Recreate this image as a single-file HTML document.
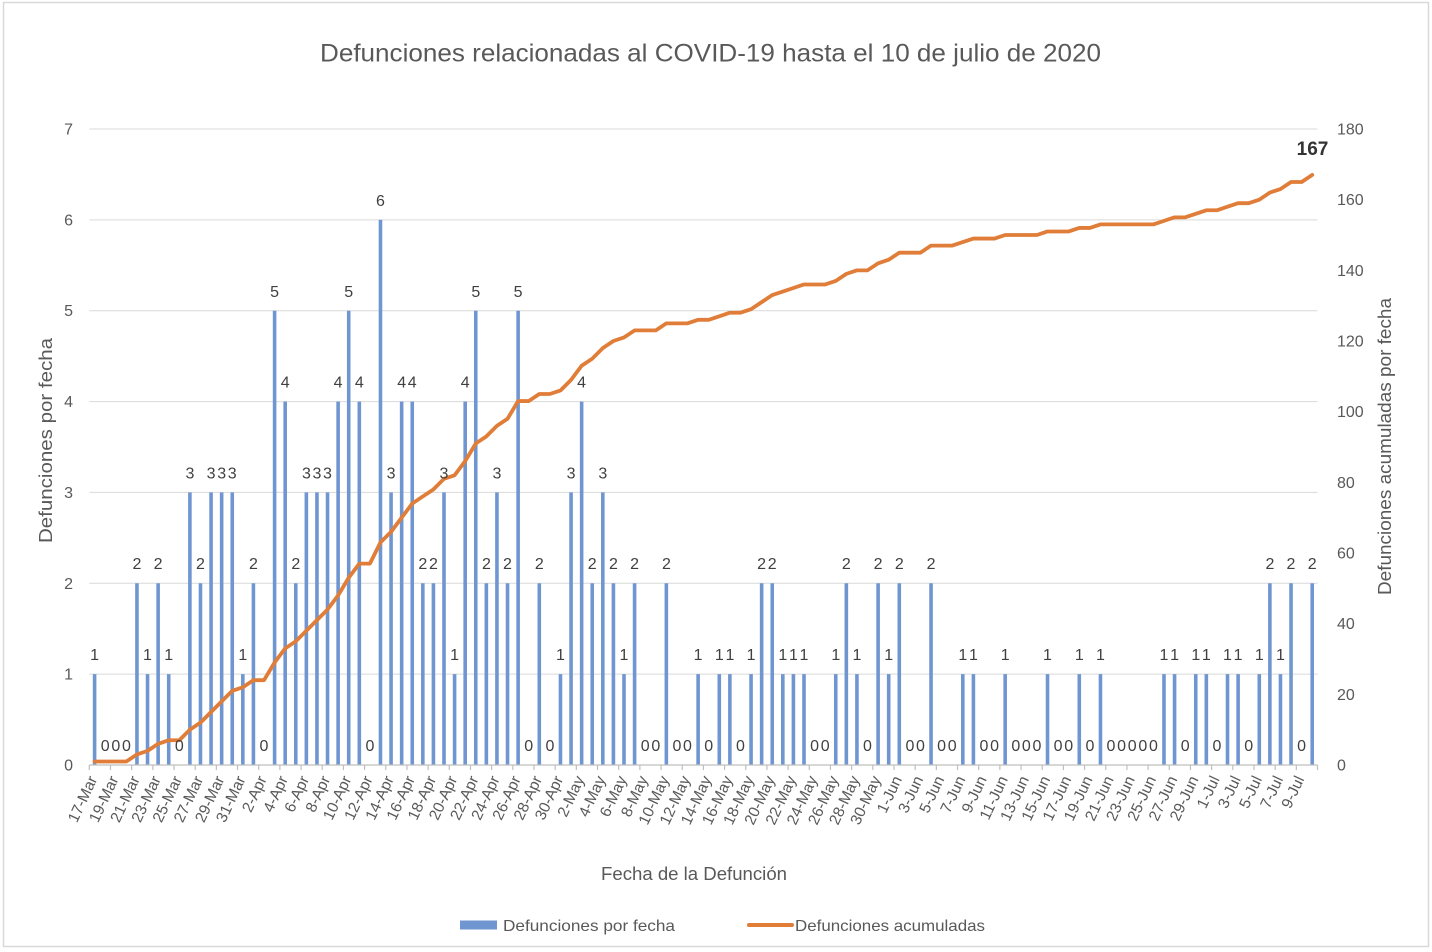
<!DOCTYPE html>
<html>
<head>
<meta charset="utf-8">
<style>
html,body{margin:0;padding:0;background:#fff;}
svg{display:block;}
text{font-family:"Liberation Sans",Arial,sans-serif;}
</style>
</head>
<body>
<svg width="1432" height="952" viewBox="0 0 1432 952" xmlns="http://www.w3.org/2000/svg">
<rect x="0" y="0" width="1432" height="952" fill="#fff"/>
<rect x="3.5" y="2.5" width="1425" height="944" fill="#fff" stroke="#d9d9d9" stroke-width="1.5"/>

<!-- title -->
<text x="710.5" y="61.5" font-size="25" fill="#595959" text-anchor="middle" textLength="781" lengthAdjust="spacingAndGlyphs">Defunciones relacionadas al COVID-19 hasta el 10 de julio de 2020</text>

<!-- gridlines -->
<g stroke="#d9d9d9" stroke-width="1">
<line x1="89.3" x2="1317.5" y1="129" y2="129"/>
<line x1="89.3" x2="1317.5" y1="219.9" y2="219.9"/>
<line x1="89.3" x2="1317.5" y1="310.7" y2="310.7"/>
<line x1="89.3" x2="1317.5" y1="401.6" y2="401.6"/>
<line x1="89.3" x2="1317.5" y1="492.4" y2="492.4"/>
<line x1="89.3" x2="1317.5" y1="583.3" y2="583.3"/>
<line x1="89.3" x2="1317.5" y1="674.1" y2="674.1"/>
</g>

<!-- bars -->
<g transform="translate(94.6 765) scale(10.588 -90.857)" fill="#7096d2">
<rect x="-0.17" y="0" width="0.34" height="1"/>
<rect x="3.83" y="0" width="0.34" height="2"/>
<rect x="4.83" y="0" width="0.34" height="1"/>
<rect x="5.83" y="0" width="0.34" height="2"/>
<rect x="6.83" y="0" width="0.34" height="1"/>
<rect x="8.83" y="0" width="0.34" height="3"/>
<rect x="9.83" y="0" width="0.34" height="2"/>
<rect x="10.83" y="0" width="0.34" height="3"/>
<rect x="11.83" y="0" width="0.34" height="3"/>
<rect x="12.83" y="0" width="0.34" height="3"/>
<rect x="13.83" y="0" width="0.34" height="1"/>
<rect x="14.83" y="0" width="0.34" height="2"/>
<rect x="16.83" y="0" width="0.34" height="5"/>
<rect x="17.83" y="0" width="0.34" height="4"/>
<rect x="18.83" y="0" width="0.34" height="2"/>
<rect x="19.83" y="0" width="0.34" height="3"/>
<rect x="20.83" y="0" width="0.34" height="3"/>
<rect x="21.83" y="0" width="0.34" height="3"/>
<rect x="22.83" y="0" width="0.34" height="4"/>
<rect x="23.83" y="0" width="0.34" height="5"/>
<rect x="24.83" y="0" width="0.34" height="4"/>
<rect x="26.83" y="0" width="0.34" height="6"/>
<rect x="27.83" y="0" width="0.34" height="3"/>
<rect x="28.83" y="0" width="0.34" height="4"/>
<rect x="29.83" y="0" width="0.34" height="4"/>
<rect x="30.83" y="0" width="0.34" height="2"/>
<rect x="31.83" y="0" width="0.34" height="2"/>
<rect x="32.83" y="0" width="0.34" height="3"/>
<rect x="33.83" y="0" width="0.34" height="1"/>
<rect x="34.83" y="0" width="0.34" height="4"/>
<rect x="35.83" y="0" width="0.34" height="5"/>
<rect x="36.83" y="0" width="0.34" height="2"/>
<rect x="37.83" y="0" width="0.34" height="3"/>
<rect x="38.83" y="0" width="0.34" height="2"/>
<rect x="39.83" y="0" width="0.34" height="5"/>
<rect x="41.83" y="0" width="0.34" height="2"/>
<rect x="43.83" y="0" width="0.34" height="1"/>
<rect x="44.83" y="0" width="0.34" height="3"/>
<rect x="45.83" y="0" width="0.34" height="4"/>
<rect x="46.83" y="0" width="0.34" height="2"/>
<rect x="47.83" y="0" width="0.34" height="3"/>
<rect x="48.83" y="0" width="0.34" height="2"/>
<rect x="49.83" y="0" width="0.34" height="1"/>
<rect x="50.83" y="0" width="0.34" height="2"/>
<rect x="53.83" y="0" width="0.34" height="2"/>
<rect x="56.83" y="0" width="0.34" height="1"/>
<rect x="58.83" y="0" width="0.34" height="1"/>
<rect x="59.83" y="0" width="0.34" height="1"/>
<rect x="61.83" y="0" width="0.34" height="1"/>
<rect x="62.83" y="0" width="0.34" height="2"/>
<rect x="63.83" y="0" width="0.34" height="2"/>
<rect x="64.83" y="0" width="0.34" height="1"/>
<rect x="65.83" y="0" width="0.34" height="1"/>
<rect x="66.83" y="0" width="0.34" height="1"/>
<rect x="69.83" y="0" width="0.34" height="1"/>
<rect x="70.83" y="0" width="0.34" height="2"/>
<rect x="71.83" y="0" width="0.34" height="1"/>
<rect x="73.83" y="0" width="0.34" height="2"/>
<rect x="74.83" y="0" width="0.34" height="1"/>
<rect x="75.83" y="0" width="0.34" height="2"/>
<rect x="78.83" y="0" width="0.34" height="2"/>
<rect x="81.83" y="0" width="0.34" height="1"/>
<rect x="82.83" y="0" width="0.34" height="1"/>
<rect x="85.83" y="0" width="0.34" height="1"/>
<rect x="89.83" y="0" width="0.34" height="1"/>
<rect x="92.83" y="0" width="0.34" height="1"/>
<rect x="94.83" y="0" width="0.34" height="1"/>
<rect x="100.83" y="0" width="0.34" height="1"/>
<rect x="101.83" y="0" width="0.34" height="1"/>
<rect x="103.83" y="0" width="0.34" height="1"/>
<rect x="104.83" y="0" width="0.34" height="1"/>
<rect x="106.83" y="0" width="0.34" height="1"/>
<rect x="107.83" y="0" width="0.34" height="1"/>
<rect x="109.83" y="0" width="0.34" height="1"/>
<rect x="110.83" y="0" width="0.34" height="2"/>
<rect x="111.83" y="0" width="0.34" height="1"/>
<rect x="112.83" y="0" width="0.34" height="2"/>
<rect x="114.83" y="0" width="0.34" height="2"/>
</g>

<!-- x axis line and ticks -->
<line x1="89.3" x2="1317.5" y1="765" y2="765" stroke="#bfbfbf" stroke-width="1.2"/>
<g transform="translate(89.3 765) scale(21.176 1)">
<path d="M0 0v5M1 0v5M2 0v5M3 0v5M4 0v5M5 0v5M6 0v5M7 0v5M8 0v5M9 0v5M10 0v5M11 0v5M12 0v5M13 0v5M14 0v5M15 0v5M16 0v5M17 0v5M18 0v5M19 0v5M20 0v5M21 0v5M22 0v5M23 0v5M24 0v5M25 0v5M26 0v5M27 0v5M28 0v5M29 0v5M30 0v5M31 0v5M32 0v5M33 0v5M34 0v5M35 0v5M36 0v5M37 0v5M38 0v5M39 0v5M40 0v5M41 0v5M42 0v5M43 0v5M44 0v5M45 0v5M46 0v5M47 0v5M48 0v5M49 0v5M50 0v5M51 0v5M52 0v5M53 0v5M54 0v5M55 0v5M56 0v5M57 0v5M58 0v5" stroke="#bfbfbf" stroke-width="1.2" vector-effect="non-scaling-stroke" fill="none"/>
</g>

<!-- cumulative line -->
<g transform="translate(94.6 765) scale(10.588 -3.5333)">
<polyline fill="none" stroke="#e07d38" stroke-width="3.8" vector-effect="non-scaling-stroke" stroke-linejoin="round" stroke-linecap="round" points="0,1 1,1 2,1 3,1 4,3 5,4 6,6 7,7 8,7 9,10 10,12 11,15 12,18 13,21 14,22 15,24 16,24 17,29 18,33 19,35 20,38 21,41 22,44 23,48 24,53 25,57 26,57 27,63 28,66 29,70 30,74 31,76 32,78 33,81 34,82 35,86 36,91 37,93 38,96 39,98 40,103 41,103 42,105 43,105 44,106 45,109 46,113 47,115 48,118 49,120 50,121 51,123 52,123 53,123 54,125 55,125 56,125 57,126 58,126 59,127 60,128 61,128 62,129 63,131 64,133 65,134 66,135 67,136 68,136 69,136 70,137 71,139 72,140 73,140 74,142 75,143 76,145 77,145 78,145 79,147 80,147 81,147 82,148 83,149 84,149 85,149 86,150 87,150 88,150 89,150 90,151 91,151 92,151 93,152 94,152 95,153 96,153 97,153 98,153 99,153 100,153 101,154 102,155 103,155 104,156 105,157 106,157 107,158 108,159 109,159 110,160 111,162 112,163 113,165 114,165 115,167"/>
</g>

<!-- data labels -->
<g font-size="16" fill="#404040" text-anchor="middle">
<text x="94.6" y="660">1</text>
<text x="105.2" y="751">0</text>
<text x="115.8" y="751">0</text>
<text x="126.4" y="751">0</text>
<text x="137.0" y="569">2</text>
<text x="147.5" y="660">1</text>
<text x="158.1" y="569">2</text>
<text x="168.7" y="660">1</text>
<text x="179.3" y="751">0</text>
<text x="189.9" y="478.5">3</text>
<text x="200.5" y="569">2</text>
<text x="211.1" y="478.5">3</text>
<text x="221.7" y="478.5">3</text>
<text x="232.2" y="478.5">3</text>
<text x="242.8" y="660">1</text>
<text x="253.4" y="569">2</text>
<text x="264.0" y="751">0</text>
<text x="274.6" y="297">5</text>
<text x="285.2" y="387.5">4</text>
<text x="295.8" y="569">2</text>
<text x="306.4" y="478.5">3</text>
<text x="316.9" y="478.5">3</text>
<text x="327.5" y="478.5">3</text>
<text x="338.1" y="387.5">4</text>
<text x="348.7" y="297">5</text>
<text x="359.3" y="387.5">4</text>
<text x="369.9" y="751">0</text>
<text x="380.5" y="206">6</text>
<text x="391.1" y="478.5">3</text>
<text x="401.7" y="387.5">4</text>
<text x="412.2" y="387.5">4</text>
<text x="422.8" y="569">2</text>
<text x="433.4" y="569">2</text>
<text x="444.0" y="478.5">3</text>
<text x="454.6" y="660">1</text>
<text x="465.2" y="387.5">4</text>
<text x="475.8" y="297">5</text>
<text x="486.4" y="569">2</text>
<text x="496.9" y="478.5">3</text>
<text x="507.5" y="569">2</text>
<text x="518.1" y="297">5</text>
<text x="528.7" y="751">0</text>
<text x="539.3" y="569">2</text>
<text x="549.9" y="751">0</text>
<text x="560.5" y="660">1</text>
<text x="571.1" y="478.5">3</text>
<text x="581.6" y="387.5">4</text>
<text x="592.2" y="569">2</text>
<text x="602.8" y="478.5">3</text>
<text x="613.4" y="569">2</text>
<text x="624.0" y="660">1</text>
<text x="634.6" y="569">2</text>
<text x="645.2" y="751">0</text>
<text x="655.8" y="751">0</text>
<text x="666.4" y="569">2</text>
<text x="676.9" y="751">0</text>
<text x="687.5" y="751">0</text>
<text x="698.1" y="660">1</text>
<text x="708.7" y="751">0</text>
<text x="719.3" y="660">1</text>
<text x="729.9" y="660">1</text>
<text x="740.5" y="751">0</text>
<text x="751.1" y="660">1</text>
<text x="761.6" y="569">2</text>
<text x="772.2" y="569">2</text>
<text x="782.8" y="660">1</text>
<text x="793.4" y="660">1</text>
<text x="804.0" y="660">1</text>
<text x="814.6" y="751">0</text>
<text x="825.2" y="751">0</text>
<text x="835.8" y="660">1</text>
<text x="846.3" y="569">2</text>
<text x="856.9" y="660">1</text>
<text x="867.5" y="751">0</text>
<text x="878.1" y="569">2</text>
<text x="888.7" y="660">1</text>
<text x="899.3" y="569">2</text>
<text x="909.9" y="751">0</text>
<text x="920.5" y="751">0</text>
<text x="931.1" y="569">2</text>
<text x="941.6" y="751">0</text>
<text x="952.2" y="751">0</text>
<text x="962.8" y="660">1</text>
<text x="973.4" y="660">1</text>
<text x="984.0" y="751">0</text>
<text x="994.6" y="751">0</text>
<text x="1005.2" y="660">1</text>
<text x="1015.8" y="751">0</text>
<text x="1026.3" y="751">0</text>
<text x="1036.9" y="751">0</text>
<text x="1047.5" y="660">1</text>
<text x="1058.1" y="751">0</text>
<text x="1068.7" y="751">0</text>
<text x="1079.3" y="660">1</text>
<text x="1089.9" y="751">0</text>
<text x="1100.5" y="660">1</text>
<text x="1111.0" y="751">0</text>
<text x="1121.6" y="751">0</text>
<text x="1132.2" y="751">0</text>
<text x="1142.8" y="751">0</text>
<text x="1153.4" y="751">0</text>
<text x="1164.0" y="660">1</text>
<text x="1174.6" y="660">1</text>
<text x="1185.2" y="751">0</text>
<text x="1195.8" y="660">1</text>
<text x="1206.3" y="660">1</text>
<text x="1216.9" y="751">0</text>
<text x="1227.5" y="660">1</text>
<text x="1238.1" y="660">1</text>
<text x="1248.7" y="751">0</text>
<text x="1259.3" y="660">1</text>
<text x="1269.9" y="569">2</text>
<text x="1280.5" y="660">1</text>
<text x="1291.0" y="569">2</text>
<text x="1301.6" y="751">0</text>
<text x="1312.2" y="569">2</text>
</g>
<text x="1312.5" y="155" font-size="19" font-weight="bold" fill="#333333" text-anchor="middle">167</text>

<!-- left axis labels -->
<g font-size="16" fill="#595959" text-anchor="end">
<text x="73" y="134.5">7</text>
<text x="73" y="225.4">6</text>
<text x="73" y="316.2">5</text>
<text x="73" y="407.1">4</text>
<text x="73" y="497.9">3</text>
<text x="73" y="588.8">2</text>
<text x="73" y="679.6">1</text>
<text x="73" y="770.5">0</text>
</g>
<!-- right axis labels -->
<g font-size="16" fill="#595959" text-anchor="start">
<text x="1337" y="134.5">180</text>
<text x="1337" y="205.2">160</text>
<text x="1337" y="275.9">140</text>
<text x="1337" y="346.5">120</text>
<text x="1337" y="417.2">100</text>
<text x="1337" y="487.9">80</text>
<text x="1337" y="558.5">60</text>
<text x="1337" y="629.2">40</text>
<text x="1337" y="699.9">20</text>
<text x="1337" y="770.5">0</text>
</g>

<!-- x tick labels -->
<g transform="translate(3 779)" font-size="15.5" fill="#595959" text-anchor="end">
<text transform="translate(94.6 0) rotate(-65)">17-Mar</text>
<text transform="translate(115.8 0) rotate(-65)">19-Mar</text>
<text transform="translate(137.0 0) rotate(-65)">21-Mar</text>
<text transform="translate(158.1 0) rotate(-65)">23-Mar</text>
<text transform="translate(179.3 0) rotate(-65)">25-Mar</text>
<text transform="translate(200.5 0) rotate(-65)">27-Mar</text>
<text transform="translate(221.7 0) rotate(-65)">29-Mar</text>
<text transform="translate(242.8 0) rotate(-65)">31-Mar</text>
<text transform="translate(264.0 0) rotate(-65)">2-Apr</text>
<text transform="translate(285.2 0) rotate(-65)">4-Apr</text>
<text transform="translate(306.4 0) rotate(-65)">6-Apr</text>
<text transform="translate(327.5 0) rotate(-65)">8-Apr</text>
<text transform="translate(348.7 0) rotate(-65)">10-Apr</text>
<text transform="translate(369.9 0) rotate(-65)">12-Apr</text>
<text transform="translate(391.1 0) rotate(-65)">14-Apr</text>
<text transform="translate(412.2 0) rotate(-65)">16-Apr</text>
<text transform="translate(433.4 0) rotate(-65)">18-Apr</text>
<text transform="translate(454.6 0) rotate(-65)">20-Apr</text>
<text transform="translate(475.8 0) rotate(-65)">22-Apr</text>
<text transform="translate(496.9 0) rotate(-65)">24-Apr</text>
<text transform="translate(518.1 0) rotate(-65)">26-Apr</text>
<text transform="translate(539.3 0) rotate(-65)">28-Apr</text>
<text transform="translate(560.5 0) rotate(-65)">30-Apr</text>
<text transform="translate(581.6 0) rotate(-65)">2-May</text>
<text transform="translate(602.8 0) rotate(-65)">4-May</text>
<text transform="translate(624.0 0) rotate(-65)">6-May</text>
<text transform="translate(645.2 0) rotate(-65)">8-May</text>
<text transform="translate(666.4 0) rotate(-65)">10-May</text>
<text transform="translate(687.5 0) rotate(-65)">12-May</text>
<text transform="translate(708.7 0) rotate(-65)">14-May</text>
<text transform="translate(729.9 0) rotate(-65)">16-May</text>
<text transform="translate(751.1 0) rotate(-65)">18-May</text>
<text transform="translate(772.2 0) rotate(-65)">20-May</text>
<text transform="translate(793.4 0) rotate(-65)">22-May</text>
<text transform="translate(814.6 0) rotate(-65)">24-May</text>
<text transform="translate(835.8 0) rotate(-65)">26-May</text>
<text transform="translate(856.9 0) rotate(-65)">28-May</text>
<text transform="translate(878.1 0) rotate(-65)">30-May</text>
<text transform="translate(899.3 0) rotate(-65)">1-Jun</text>
<text transform="translate(920.5 0) rotate(-65)">3-Jun</text>
<text transform="translate(941.6 0) rotate(-65)">5-Jun</text>
<text transform="translate(962.8 0) rotate(-65)">7-Jun</text>
<text transform="translate(984.0 0) rotate(-65)">9-Jun</text>
<text transform="translate(1005.2 0) rotate(-65)">11-Jun</text>
<text transform="translate(1026.3 0) rotate(-65)">13-Jun</text>
<text transform="translate(1047.5 0) rotate(-65)">15-Jun</text>
<text transform="translate(1068.7 0) rotate(-65)">17-Jun</text>
<text transform="translate(1089.9 0) rotate(-65)">19-Jun</text>
<text transform="translate(1111.0 0) rotate(-65)">21-Jun</text>
<text transform="translate(1132.2 0) rotate(-65)">23-Jun</text>
<text transform="translate(1153.4 0) rotate(-65)">25-Jun</text>
<text transform="translate(1174.6 0) rotate(-65)">27-Jun</text>
<text transform="translate(1195.8 0) rotate(-65)">29-Jun</text>
<text transform="translate(1216.9 0) rotate(-65)">1-Jul</text>
<text transform="translate(1238.1 0) rotate(-65)">3-Jul</text>
<text transform="translate(1259.3 0) rotate(-65)">5-Jul</text>
<text transform="translate(1280.5 0) rotate(-65)">7-Jul</text>
<text transform="translate(1301.6 0) rotate(-65)">9-Jul</text>
</g>

<!-- axis titles -->
<text transform="translate(52 440.5) rotate(-90)" font-size="18" fill="#595959" text-anchor="middle" textLength="205" lengthAdjust="spacingAndGlyphs">Defunciones por fecha</text>
<text transform="translate(1391 446.5) rotate(-90)" font-size="18" fill="#595959" text-anchor="middle" textLength="297" lengthAdjust="spacingAndGlyphs">Defunciones acumuladas por fecha</text>
<text x="694" y="880" font-size="18" fill="#595959" text-anchor="middle" textLength="186" lengthAdjust="spacingAndGlyphs">Fecha de la Defunción</text>

<!-- legend -->
<rect x="460" y="920.5" width="37" height="9" fill="#7096d2"/>
<text x="503" y="931" font-size="16" fill="#595959" textLength="172" lengthAdjust="spacingAndGlyphs">Defunciones por fecha</text>
<line x1="749" x2="792" y1="925" y2="925" stroke="#e07d38" stroke-width="4" stroke-linecap="round"/>
<text x="795" y="931" font-size="16" fill="#595959" textLength="190" lengthAdjust="spacingAndGlyphs">Defunciones acumuladas</text>
</svg>
</body>
</html>
